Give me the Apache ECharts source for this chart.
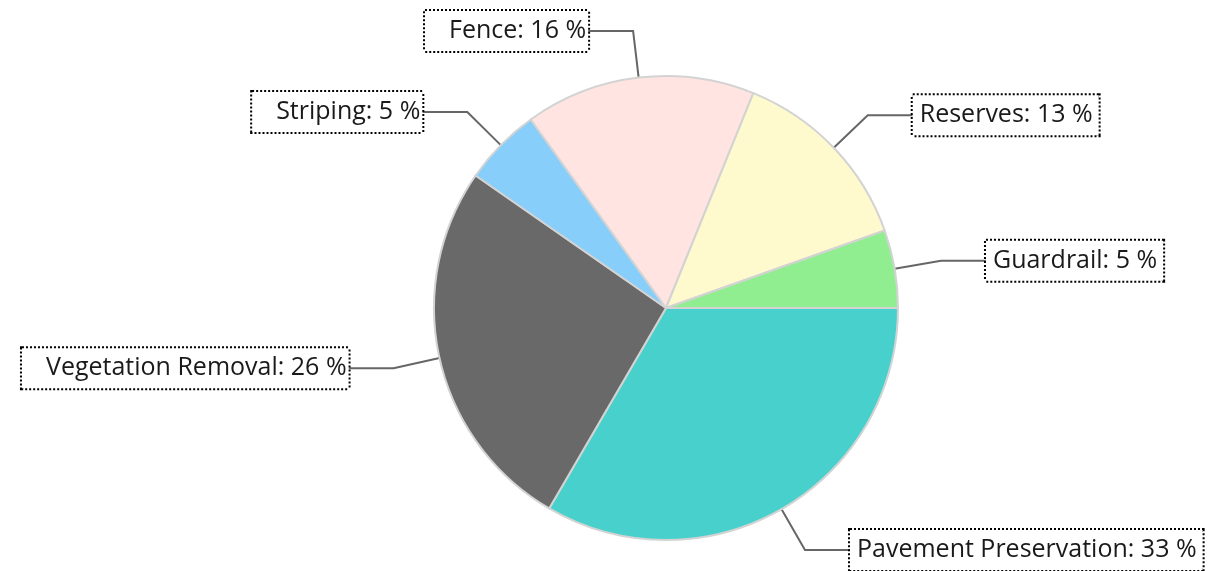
<!DOCTYPE html>
<html>
<head>
<meta charset="utf-8">
<script src="https://cdn.jsdelivr.net/npm/echarts@6/dist/echarts.min.js"></script>
<style>
  html, body { margin: 0; padding: 0; background: #fff; }
  #main { width: 1212px; height: 571px; }
</style>
</head>
<body>
<div id="main"></div>
<script>
// slice names and values (clockwise from 3 o'clock)
var categories = ['Pavement Preservation', 'Vegetation Removal', 'Striping', 'Fence', 'Reserves', 'Guardrail'];
var values = [33.3, 26.2, 5.4, 16.0, 13.4, 5.4];
var colors = ['#48D1CC', '#696969', '#87CEFA', '#FFE4E1', '#FFFACD', '#90EE90'];
var leftSide = [false, true, true, true, false, false];

var total = values.reduce(function (a, b) { return a + b; }, 0);

var pieData = [];
for (var i = 0; i < categories.length; i++) {
    pieData.push({
        name: categories[i],
        value: values[i],
        itemStyle: { color: colors[i] },
        label: {
            padding: leftSide[i] ? [5, 2, 3, 24] : [5, 6, 3, 7]
        }
    });
}

var chart = echarts.init(document.getElementById('main'));
var option = {
    animation: false,
    series: [
        {
            type: 'pie',
            center: [666, 308],
            radius: 232,
            startAngle: 0,
            clockwise: true,
            avoidLabelOverlap: false,
            data: pieData,
            itemStyle: {
                borderColor: '#d3d3d3',
                borderWidth: 2
            },
            label: {
                show: true,
                position: 'outside',
                distanceToLabelLine: 0,
                formatter: function (p) {
                    return p.name + ': ' + Math.round(p.value / total * 100) + ' %';
                },
                fontFamily: 'Open Sans',
                fontSize: 25,
                lineHeight: 32,
                color: '#1a1a1a',
                backgroundColor: '#fff',
                borderColor: '#000',
                borderWidth: 2,
                borderType: [2, 2]
            },
            labelLine: {
                show: true,
                length: 47,
                length2: 45,
                smooth: false,
                lineStyle: {
                    color: '#666',
                    width: 2
                }
            },
            emphasis: { disabled: true }
        }
    ]
};
chart.setOption(option);
</script>
</body>
</html>
